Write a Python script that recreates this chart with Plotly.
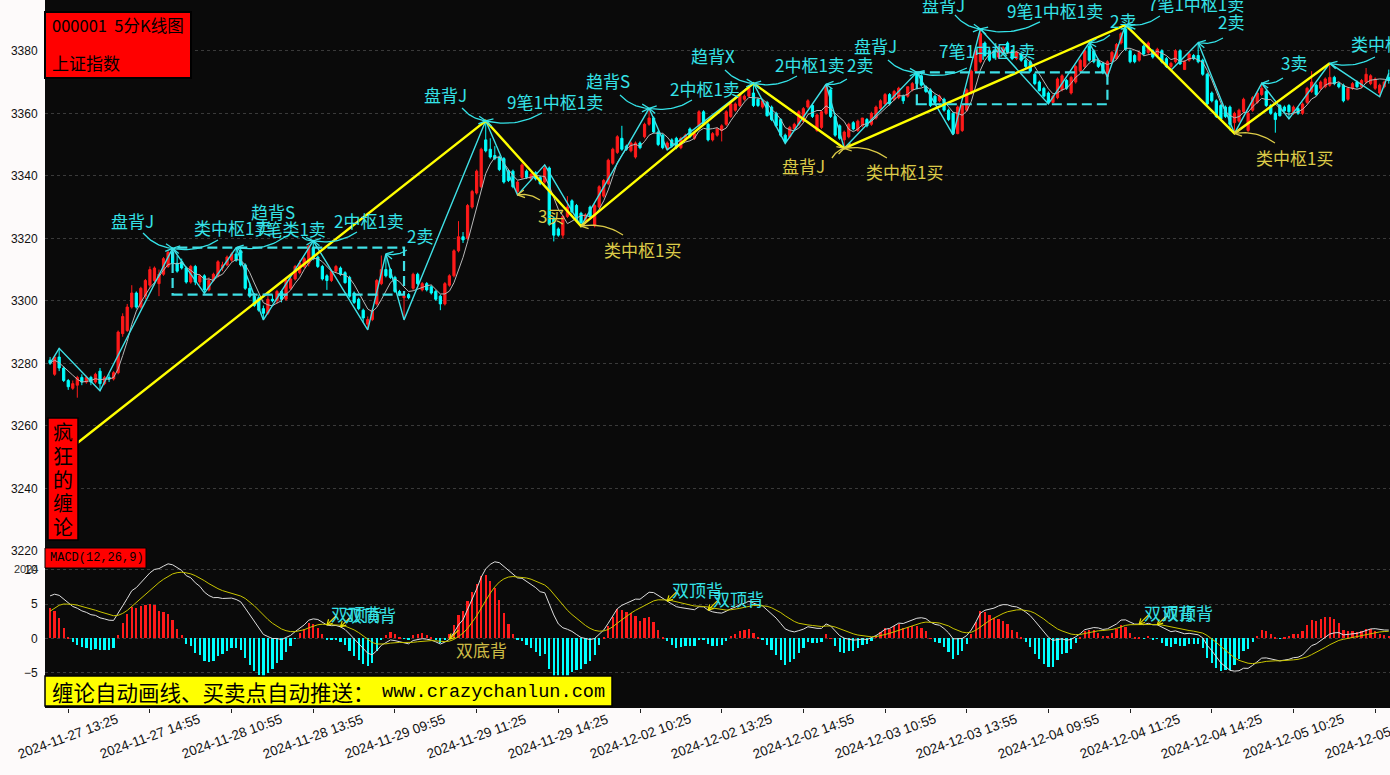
import math
import pandas as pd
import plotly.graph_objects as go

# ------------------------------------------------------------------ data
opens = [
 3281.0, 3276.5, 3282.0, 3278.5, 3274.5, 3272.0, 3273.0, 3275.5, 3274.0, 3275.5,
 3274.0, 3277.5, 3273.5, 3275.5, 3275.0, 3277.0, 3289.5, 3290.5, 3298.0, 3302.5,
 3298.0, 3301.5, 3305.0, 3306.5, 3305.5, 3308.5, 3311.0, 3315.5, 3312.0, 3312.5,
 3310.5, 3306.0, 3311.0, 3306.0, 3308.0, 3303.5, 3306.5, 3308.0, 3310.5, 3311.5,
 3313.0, 3315.0, 3316.0, 3311.5, 3304.0, 3301.5, 3301.0, 3297.5, 3296.0, 3300.5,
 3300.0, 3303.0, 3300.5, 3304.0, 3307.0, 3309.0, 3311.0, 3312.0, 3317.0, 3314.0,
 3311.0, 3308.0, 3306.5, 3309.5, 3310.5, 3309.0, 3307.5, 3302.5, 3300.5, 3297.0,
 3292.5, 3294.0, 3299.0, 3305.5, 3310.0, 3310.0, 3307.5, 3303.0, 3301.0, 3302.0,
 3304.0, 3308.5, 3303.5, 3305.5, 3304.5, 3303.0, 3301.5, 3299.0, 3305.0, 3308.0,
 3316.0, 3320.5, 3320.0, 3330.0, 3334.5, 3336.5, 3351.5, 3348.5, 3346.5, 3346.0,
 3345.5, 3341.5, 3341.5, 3335.0, 3339.5, 3341.5, 3339.0, 3341.0, 3339.5, 3338.0,
 3342.5, 3326.5, 3323.0, 3321.0, 3327.0, 3332.0, 3330.5, 3328.0, 3325.5, 3330.0,
 3324.0, 3330.0, 3333.5, 3337.5, 3344.0, 3347.5, 3352.0, 3349.5, 3348.0, 3346.0,
 3350.5, 3352.5, 3356.5, 3358.5, 3354.0, 3353.0, 3348.5, 3351.5, 3352.0, 3349.0,
 3351.5, 3355.0, 3352.0, 3356.0, 3360.5, 3356.5, 3351.5, 3353.0, 3354.5, 3356.5,
 3359.0, 3361.0, 3362.5, 3364.5, 3365.5, 3366.5, 3364.5, 3362.0, 3363.5, 3362.0,
 3360.0, 3358.0, 3353.0, 3352.5, 3355.0, 3356.5, 3357.5, 3362.0, 3362.5, 3354.5,
 3355.5, 3360.0, 3367.5, 3359.0, 3356.0, 3351.5, 3352.5, 3357.0, 3354.5, 3356.0,
 3358.0, 3356.5, 3358.5, 3361.5, 3363.0, 3366.0, 3364.5, 3365.0, 3365.5, 3365.5,
 3367.5, 3373.0, 3372.0, 3368.5, 3367.5, 3365.5, 3364.0, 3364.5, 3361.0, 3360.0,
 3353.5, 3354.5, 3361.0, 3366.5, 3373.5, 3376.5, 3382.5, 3380.0, 3380.0, 3378.0,
 3379.5, 3382.5, 3380.0, 3377.5, 3379.0, 3377.0, 3376.5, 3372.5, 3370.0, 3368.0,
 3366.5, 3363.5, 3365.0, 3367.5, 3370.5, 3366.5, 3370.0, 3373.5, 3375.0, 3381.5,
 3380.0, 3377.0, 3376.0, 3371.8, 3376.5, 3377.5, 3382.5, 3387.0, 3380.0, 3378.5,
 3377.0, 3381.5, 3379.5, 3380.0, 3378.5, 3380.0, 3377.5, 3375.0, 3376.5, 3380.0,
 3374.0, 3377.0, 3378.5, 3378.5, 3377.0, 3372.5, 3366.5, 3364.0, 3362.5, 3362.0,
 3362.0, 3357.0, 3357.5, 3360.5, 3354.5, 3361.0, 3363.5, 3366.0, 3367.0, 3362.5,
 3360.0, 3362.5, 3362.0, 3362.5, 3360.0, 3361.5, 3360.0, 3363.5, 3367.0, 3369.0,
 3368.0, 3368.5, 3369.0, 3371.5, 3369.5, 3369.0, 3364.5, 3368.0, 3370.0, 3368.5,
 3370.0, 3369.5, 3368.0, 3366.5, 3368.5, 3371.5]
highs = [
 3282.0, 3282.5, 3284.8, 3279.0, 3275.0, 3274.5, 3276.0, 3276.5, 3276.0, 3276.0,
 3277.0, 3278.5, 3276.0, 3276.5, 3277.5, 3290.5, 3296.0, 3299.0, 3305.0, 3303.0,
 3304.5, 3307.0, 3311.0, 3311.0, 3310.0, 3314.0, 3316.0, 3316.8, 3314.5, 3313.5,
 3311.0, 3311.5, 3311.5, 3308.5, 3308.5, 3307.5, 3309.0, 3313.0, 3312.5, 3314.5,
 3315.5, 3317.0, 3317.0, 3312.0, 3305.5, 3302.5, 3302.0, 3298.5, 3301.5, 3302.0,
 3303.5, 3303.5, 3307.0, 3307.5, 3311.5, 3313.0, 3314.0, 3318.0, 3319.2, 3314.5,
 3311.5, 3308.5, 3310.0, 3311.5, 3311.0, 3309.5, 3308.0, 3303.0, 3301.0, 3297.5,
 3295.0, 3297.5, 3307.0, 3314.5, 3315.0, 3310.5, 3308.0, 3303.5, 3302.5, 3302.5,
 3309.0, 3309.0, 3306.0, 3306.0, 3305.0, 3303.5, 3302.0, 3306.0, 3308.5, 3316.5,
 3325.5, 3322.0, 3331.0, 3335.5, 3342.0, 3349.0, 3357.6, 3352.0, 3349.5, 3346.5,
 3346.0, 3342.0, 3342.0, 3338.5, 3344.0, 3342.0, 3341.0, 3341.5, 3340.0, 3343.5,
 3343.0, 3327.0, 3323.5, 3327.5, 3333.5, 3332.5, 3331.0, 3328.5, 3328.0, 3330.5,
 3331.0, 3337.0, 3339.0, 3345.5, 3349.0, 3353.0, 3356.0, 3350.0, 3351.0, 3351.0,
 3351.0, 3357.0, 3361.6, 3359.0, 3354.5, 3353.5, 3351.0, 3352.0, 3352.5, 3352.5,
 3353.5, 3355.5, 3354.0, 3361.0, 3361.0, 3357.0, 3354.0, 3355.5, 3356.5, 3361.0,
 3363.5, 3363.5, 3366.5, 3366.0, 3368.5, 3369.6, 3365.0, 3364.5, 3364.0, 3362.5,
 3360.5, 3358.5, 3353.5, 3356.0, 3357.0, 3361.0, 3362.0, 3364.5, 3363.0, 3360.0,
 3361.0, 3369.3, 3368.0, 3359.5, 3356.5, 3354.5, 3357.0, 3357.5, 3358.0, 3358.5,
 3358.5, 3360.5, 3362.5, 3364.5, 3366.5, 3366.5, 3367.5, 3368.5, 3366.0, 3368.5,
 3370.0, 3373.1, 3372.5, 3369.0, 3368.0, 3366.0, 3366.0, 3365.0, 3361.5, 3360.5,
 3362.5, 3363.0, 3368.0, 3374.0, 3380.5, 3387.0, 3383.0, 3380.5, 3380.5, 3381.5,
 3381.5, 3383.0, 3380.5, 3380.0, 3379.5, 3377.5, 3377.0, 3373.0, 3370.5, 3368.5,
 3367.0, 3366.0, 3371.5, 3372.5, 3371.0, 3372.0, 3375.5, 3377.5, 3380.5, 3382.6,
 3380.5, 3377.5, 3376.5, 3377.0, 3380.0, 3382.5, 3386.0, 3388.3, 3380.5, 3379.0,
 3380.0, 3382.0, 3383.0, 3380.5, 3381.0, 3380.5, 3378.0, 3376.5, 3380.5, 3380.5,
 3377.0, 3379.5, 3379.0, 3382.6, 3377.5, 3373.0, 3367.0, 3364.5, 3363.0, 3362.5,
 3362.5, 3360.5, 3361.5, 3365.0, 3360.5, 3365.5, 3367.0, 3369.6, 3367.5, 3363.0,
 3360.5, 3363.0, 3362.5, 3363.0, 3362.5, 3362.0, 3363.5, 3368.5, 3373.5, 3369.5,
 3370.5, 3371.5, 3376.0, 3372.0, 3370.0, 3369.5, 3368.5, 3370.0, 3370.5, 3371.0,
 3374.5, 3372.5, 3371.5, 3369.5, 3370.5, 3374.0]
lows = [
 3279.5, 3276.0, 3277.5, 3274.0, 3271.5, 3271.5, 3269.0, 3273.0, 3273.5, 3273.0,
 3273.5, 3271.2, 3273.0, 3274.0, 3274.5, 3276.5, 3288.5, 3290.0, 3297.5, 3297.5,
 3297.5, 3300.5, 3304.0, 3305.0, 3301.5, 3308.0, 3310.5, 3311.5, 3309.0, 3310.0,
 3305.5, 3305.5, 3305.0, 3305.0, 3302.4, 3303.0, 3306.0, 3307.5, 3309.5, 3311.0,
 3312.5, 3312.5, 3311.0, 3303.5, 3301.0, 3298.0, 3296.5, 3293.9, 3295.5, 3299.5,
 3299.0, 3299.5, 3300.0, 3303.5, 3306.5, 3308.5, 3310.5, 3311.0, 3313.0, 3310.5,
 3306.5, 3303.5, 3306.0, 3309.0, 3308.0, 3305.5, 3301.0, 3299.0, 3297.0, 3293.0,
 3290.7, 3293.5, 3298.5, 3305.0, 3307.5, 3307.0, 3302.5, 3301.5, 3293.9, 3300.5,
 3303.5, 3305.0, 3303.0, 3303.0, 3302.0, 3300.0, 3297.0, 3298.5, 3304.5, 3307.5,
 3315.5, 3318.5, 3319.5, 3329.5, 3334.0, 3336.0, 3347.5, 3345.5, 3345.0, 3341.5,
 3337.5, 3338.0, 3336.0, 3333.9, 3339.0, 3339.0, 3338.5, 3338.5, 3337.0, 3337.5,
 3324.0, 3319.0, 3320.5, 3320.0, 3326.5, 3328.0, 3325.5, 3323.9, 3325.0, 3326.5,
 3323.5, 3329.5, 3333.0, 3337.0, 3343.5, 3347.0, 3348.0, 3348.0, 3347.5, 3345.5,
 3348.5, 3352.0, 3356.0, 3353.5, 3349.5, 3348.5, 3348.3, 3349.0, 3348.5, 3348.5,
 3351.0, 3352.0, 3351.5, 3355.5, 3356.0, 3351.0, 3351.0, 3352.5, 3351.0, 3356.0,
 3358.5, 3360.5, 3362.0, 3364.0, 3365.0, 3362.0, 3362.0, 3361.5, 3359.0, 3357.5,
 3355.5, 3352.5, 3350.4, 3352.0, 3354.5, 3356.0, 3357.0, 3361.5, 3358.5, 3354.0,
 3355.0, 3359.5, 3358.5, 3352.5, 3351.5, 3348.8, 3352.0, 3354.5, 3354.0, 3355.5,
 3355.5, 3356.0, 3358.0, 3361.0, 3362.5, 3362.5, 3364.0, 3364.5, 3363.0, 3365.0,
 3367.0, 3369.0, 3368.5, 3366.5, 3362.0, 3363.0, 3363.5, 3360.5, 3357.5, 3353.1,
 3353.3, 3354.0, 3360.5, 3366.0, 3373.0, 3376.0, 3378.0, 3376.5, 3377.5, 3377.5,
 3379.0, 3379.0, 3377.0, 3377.0, 3376.5, 3374.5, 3373.0, 3369.0, 3367.0, 3365.0,
 3363.0, 3363.2, 3364.5, 3367.0, 3367.5, 3366.0, 3369.5, 3373.0, 3374.5, 3376.5,
 3376.0, 3374.5, 3372.5, 3371.7, 3376.0, 3377.0, 3382.0, 3380.0, 3376.0, 3376.0,
 3376.5, 3378.5, 3379.0, 3377.5, 3378.0, 3376.0, 3374.5, 3373.8, 3376.0, 3375.5,
 3374.0, 3376.5, 3377.0, 3376.0, 3372.0, 3362.5, 3363.5, 3358.5, 3358.0, 3358.5,
 3354.5, 3353.6, 3357.0, 3360.0, 3354.0, 3360.5, 3363.0, 3365.5, 3362.0, 3359.5,
 3353.8, 3359.0, 3360.5, 3358.2, 3359.5, 3359.5, 3359.5, 3363.0, 3366.5, 3365.5,
 3367.5, 3368.0, 3368.5, 3369.0, 3368.0, 3363.5, 3364.0, 3367.5, 3368.0, 3368.0,
 3369.5, 3369.0, 3367.5, 3365.3, 3368.0, 3369.5]
closes = [
 3280.0, 3282.0, 3278.5, 3274.5, 3272.5, 3273.5, 3275.5, 3274.0, 3275.5, 3274.0,
 3276.5, 3273.5, 3275.5, 3275.0, 3277.0, 3290.0, 3295.0, 3298.0, 3302.5, 3298.0,
 3304.0, 3306.5, 3310.0, 3310.5, 3308.5, 3313.5, 3315.5, 3312.0, 3309.5, 3310.5,
 3306.0, 3311.0, 3306.0, 3308.0, 3303.5, 3306.5, 3308.5, 3312.5, 3311.5, 3314.0,
 3315.0, 3313.0, 3311.5, 3304.0, 3301.5, 3298.5, 3297.0, 3296.0, 3300.5, 3300.0,
 3303.0, 3300.5, 3306.5, 3307.0, 3311.0, 3312.0, 3313.5, 3317.5, 3313.5, 3311.0,
 3307.0, 3306.5, 3309.5, 3311.0, 3308.5, 3305.8, 3301.5, 3299.5, 3297.5, 3294.5,
 3294.0, 3297.0, 3306.5, 3310.0, 3308.0, 3307.5, 3303.0, 3302.0, 3301.5, 3301.0,
 3308.5, 3305.5, 3305.5, 3303.5, 3302.5, 3300.5, 3299.0, 3305.5, 3308.0, 3316.0,
 3320.5, 3319.5, 3330.5, 3335.0, 3341.5, 3348.5, 3348.0, 3346.0, 3345.5, 3342.0,
 3338.0, 3338.5, 3336.5, 3338.0, 3343.5, 3339.5, 3340.5, 3339.0, 3337.5, 3342.5,
 3324.5, 3321.0, 3321.0, 3327.0, 3330.0, 3328.5, 3326.0, 3325.0, 3327.5, 3327.0,
 3330.5, 3336.5, 3338.5, 3345.0, 3348.5, 3352.5, 3348.5, 3348.5, 3350.5, 3350.5,
 3349.0, 3356.5, 3358.5, 3354.0, 3350.0, 3349.0, 3350.5, 3349.5, 3349.0, 3352.0,
 3353.0, 3352.5, 3353.5, 3360.5, 3356.5, 3351.5, 3353.5, 3355.0, 3356.0, 3360.5,
 3363.0, 3363.0, 3366.0, 3365.5, 3368.0, 3362.5, 3362.5, 3364.0, 3359.2, 3358.0,
 3356.0, 3353.0, 3351.0, 3355.5, 3356.5, 3360.5, 3361.5, 3364.0, 3359.0, 3359.5,
 3360.5, 3369.0, 3359.0, 3353.0, 3352.0, 3354.0, 3356.5, 3355.0, 3357.5, 3358.5,
 3356.0, 3360.0, 3362.0, 3364.0, 3366.0, 3363.0, 3367.0, 3368.0, 3364.0, 3368.5,
 3369.5, 3369.5, 3369.0, 3367.0, 3362.5, 3363.5, 3365.5, 3361.0, 3358.0, 3353.5,
 3362.0, 3362.5, 3367.5, 3373.5, 3380.0, 3385.5, 3378.5, 3377.0, 3377.8, 3381.0,
 3381.0, 3379.5, 3377.5, 3379.5, 3377.0, 3375.0, 3373.5, 3369.5, 3367.2, 3365.5,
 3363.5, 3365.5, 3371.0, 3372.0, 3368.0, 3371.5, 3375.0, 3377.0, 3380.0, 3377.0,
 3376.5, 3375.0, 3373.0, 3376.5, 3379.5, 3382.0, 3385.5, 3380.5, 3376.5, 3376.5,
 3379.5, 3379.0, 3382.5, 3378.0, 3380.5, 3376.5, 3375.0, 3376.0, 3380.0, 3375.8,
 3376.5, 3379.0, 3377.5, 3376.5, 3372.5, 3363.0, 3364.0, 3359.0, 3358.2, 3359.0,
 3356.5, 3360.0, 3361.0, 3364.5, 3360.0, 3365.0, 3366.5, 3368.0, 3362.5, 3360.0,
 3358.0, 3359.2, 3360.8, 3360.5, 3362.0, 3360.0, 3363.0, 3368.0, 3370.0, 3366.0,
 3370.0, 3371.0, 3371.5, 3369.5, 3368.5, 3364.0, 3368.0, 3369.5, 3368.5, 3370.5,
 3372.5, 3372.0, 3371.0, 3369.0, 3370.0, 3370.5]

trade_days = ["2024-11-27", "2024-11-28", "2024-11-29", "2024-12-02",
              "2024-12-03", "2024-12-04", "2024-12-05"]
first_bar = "2024-11-27 13:05"
last_bar = "2024-12-05 13:40"
tick_every = 18
tick_first = 4

# chan "bi" strokes (bar index, price)
bi_idx = [0, 2, 11, 27, 34, 41, 47, 58, 70, 74, 78, 96, 103, 109, 117, 132, 136,
          155, 162, 171, 175, 191, 199, 205, 220, 229, 233, 237, 247, 253, 261,
          267, 273, 282, 293, 295]
bi_price = [3280.0, 3284.8, 3271.2, 3316.8, 3302.4, 3317.0, 3293.9, 3319.2, 3290.7,
            3315.0, 3293.9, 3357.6, 3333.9, 3343.5, 3323.9, 3361.6, 3348.3, 3369.6,
            3350.4, 3369.3, 3348.8, 3373.1, 3353.1, 3387.0, 3363.0, 3382.6, 3371.7,
            3388.3, 3373.8, 3382.6, 3353.6, 3369.6, 3358.2, 3376.0, 3365.3, 3372.8]
# segments
seg_idx = [6, 96, 117, 155, 175, 237, 261, 282]
seg_price = [3254.5, 3357.6, 3323.9, 3369.6, 3348.8, 3388.3, 3353.6, 3376.0]
# pivots (zhongshu)
zs_start = [27, 191]
zs_end = [78, 233]
zs_low = [3302.0, 3362.9]
zs_high = [3317.0, 3373.1]

# signals: text, kind, bi vertex number
sig_text = ["盘背J", "类中枢1卖", "趋背S", "7笔类1卖", "2中枢1卖", "2卖", "盘背J",
            "9笔1中枢1卖", "趋背S", "2中枢1卖", "趋背X", "2中枢1卖", "2卖", "盘背J",
            "7笔1中枢1卖", "盘背J", "9笔1中枢1卖", "2卖", "7笔1中枢1卖", "2卖", "3卖",
            "类中枢1卖", "3买", "类中枢1买", "盘背J", "类中枢1买", "类中枢1买"]
sig_kind = ["sell"] * 22 + ["buy"] * 5
sig_vertex = [3, 3, 5, 7, 7, 9, 11, 11, 15, 15, 17, 17, 19, 21, 21, 23, 23, 25, 27,
              29, 31, 33, 12, 14, 20, 20, 30]

macd_sig_text = ["双顶背", "双顶背", "双底背", "双顶背", "双顶背", "双顶背", "双顶背"]
macd_sig_bar = [61, 64, 88, 136, 145, 240, 244]
macd_sig_kind = ["top", "top", "bottom", "top", "top", "top", "top"]

ma_period = 5
ema12_init, ema26_init, dea_init = 3272.0, 3266.0, 3.4

# ------------------------------------------------------------------ style / layout
# label offsets (pixels): text centre (dx, dy), arrow start (sx, sy) relative to vertex
sig_offsets = [(-40.6, -28.3, -29.6, -15.3), (59.4, -21.3, 45.4, -8.3),
               (36.8, -35.7, 48.8, -10.7), (-22.3, -12.8, -11.3, -3.8),
               (55.7, -20.8, 43.7, -8.8), (34.1, -18.9, 21.1, -3.9),
               (-40.7, -26.8, -23.7, -12.8), (69.3, -19.8, 56.3, -7.8),
               (-41.1, -28.3, -29.1, -13.3), (55.9, -20.3, 42.9, -8.3),
               (-40.5, -28.3, -28.5, -13.3), (56.5, -19.3, 43.5, -7.3),
               (33.9, -20.2, 20.9, -5.2), (-40.9, -26.4, -28.9, -12.4),
               (70.1, -21.4, 50.1, -4.4), (-36.4, -24.0, -25.4, -14.0),
               (74.6, -18.0, 59.6, -7.0), (33.7, -21.7, 20.7, -7.7),
               (70.4, -20.9, 34.4, -8.9), (32.8, -20.7, 24.8, -4.7),
               (32.3, -21.3, 21.3, -5.3), (60.2, -20.3, 45.2, -6.3),
               (33.5, 21.1, 22.5, 5.1), (61.0, 22.9, 42.0, 8.9),
               (-40.3, 16.7, -12.3, 9.7), (60.7, 22.7, 42.7, 9.7),
               (60.5, 23.7, 40.5, 9.7)]
macd_offsets = {"top": (30, -12), "bottom": (32, 10)}

W, H = 1390, 775
ML, MB = 45, 67
PW, PH = W - ML, H - MB
MAIN_H = 551
XR = (-1.12, 295.27)
YR = (3219.94, 3396.26)
Y2R = (-10.17, 12.74)

C_UP = "#ff1a1a"
C_DN = "#00ffff"
C_BI = "#3fe0e6"
C_SELL = "#35e3e8"
C_BUY = "#dccb48"
C_SEG = "#ffff00"
CJK = "Noto Sans CJK SC"

# ------------------------------------------------------------------ derived
n = len(closes)
idx = list(range(n))


def session_slots():
    out = []
    for start, end in ((9 * 60 + 35, 11 * 60 + 30), (13 * 60 + 5, 15 * 60)):
        m = start
        while m <= end:
            out.append(f"{m // 60:02d}:{m % 60:02d}")
            m += 5
    return out


all_times = [f"{d} {t}" for d in trade_days for t in session_slots()]
times = all_times[all_times.index(first_bar): all_times.index(last_bar) + 1]

ma = pd.Series(closes).rolling(ma_period, min_periods=1).mean()

e12, e26, dv = ema12_init, ema26_init, dea_init
dif, dea, hist = [], [], []
for c in closes:
    e12 += 2 / 13 * (c - e12)
    e26 += 2 / 27 * (c - e26)
    d = e12 - e26
    dv += 2 / 10 * (d - dv)
    dif.append(d)
    dea.append(dv)
    hist.append(2 * (d - dv))


# pixel helpers
def fx(i):
    return ML + (i - XR[0]) / (XR[1] - XR[0]) * PW


def fy(p):
    return (YR[1] - p) / (YR[1] - YR[0]) * MAIN_H


def fy2(v):
    return MAIN_H + (Y2R[1] - v) / (Y2R[1] - Y2R[0]) * (PH - MAIN_H)


def ix(px):
    return XR[0] + (px - ML) / PW * (XR[1] - XR[0])


def iy(py):
    return YR[1] - py / MAIN_H * (YR[1] - YR[0])


def iy2(py):
    return Y2R[1] - (py - MAIN_H) / (PH - MAIN_H) * (Y2R[1] - Y2R[0])


def pxp(x):
    return (x - ML) / PW


def pyp(y):
    return (PH - y) / PH


def arrow_pts(sx, sy, tx, ty, bend, head=8, spread=0.5):
    mx, my = (sx + tx) / 2, (sy + ty) / 2
    dx, dy = tx - sx, ty - sy
    L = math.hypot(dx, dy) or 1
    nx, ny = -dy / L, dx / L
    if ny < 0:
        nx, ny = -nx, -ny
    cx, cy = mx + bend * L * nx, my + bend * L * ny
    pts = []
    for k in range(21):
        t = k / 20
        pts.append(((1 - t) ** 2 * sx + 2 * (1 - t) * t * cx + t * t * tx,
                    (1 - t) ** 2 * sy + 2 * (1 - t) * t * cy + t * t * ty))
    ang = math.atan2(ty - cy, tx - cx)
    h = [(tx - head * math.cos(ang - spread), ty - head * math.sin(ang - spread)),
         (tx, ty),
         (tx - head * math.cos(ang + spread), ty - head * math.sin(ang + spread))]
    return pts, h


fig = go.Figure()

# ---------------- main panel
fig.add_trace(go.Candlestick(
    x=idx, open=opens, high=highs, low=lows, close=closes,
    increasing=dict(line=dict(color=C_UP, width=1), fillcolor=C_UP),
    decreasing=dict(line=dict(color=C_DN, width=1), fillcolor=C_DN),
    whiskerwidth=0, showlegend=False, hoverinfo="skip", xaxis="x", yaxis="y"))
fig.add_trace(go.Scatter(x=idx, y=ma, mode="lines", line=dict(color="#b8b8b8", width=1),
                         hoverinfo="skip", showlegend=False, xaxis="x", yaxis="y"))
fig.add_trace(go.Scatter(x=bi_idx, y=bi_price, mode="lines", line=dict(color=C_BI, width=1.4),
                         hoverinfo="skip", showlegend=False, xaxis="x", yaxis="y"))
fig.add_trace(go.Scatter(x=seg_idx, y=seg_price, mode="lines", line=dict(color=C_SEG, width=2.4),
                         hoverinfo="skip", showlegend=False, xaxis="x", yaxis="y"))

shapes = []
for a, b, lo, hi in zip(zs_start, zs_end, zs_low, zs_high):
    shapes.append(dict(type="rect", xref="x", yref="y", x0=a, x1=b, y0=lo, y1=hi,
                       line=dict(color=C_BI, width=2.2, dash="10px,5px"), layer="above"))

annotations = []
arrow_xy = {"sell": ([], []), "buy": ([], [])}
for text, kind, k, (dx, dy, sx, sy) in zip(sig_text, sig_kind, sig_vertex, sig_offsets):
    vi, vp = bi_idx[k], bi_price[k]
    tx, ty = fx(vi), fy(vp)
    col = C_SELL if kind == "sell" else C_BUY
    annotations.append(dict(x=vi, y=vp, xref="x", yref="y", text=text, showarrow=False,
                            xshift=dx, yshift=-dy, xanchor="center", yanchor="middle",
                            font=dict(family=CJK, size=17, color=col)))
    bend = 0.2 if kind == "sell" else -0.2
    pts, head = arrow_pts(tx + sx, ty + sy, tx, ty, bend)
    xs, ys = arrow_xy[kind]
    for seq in (pts, head):
        xs += [ix(p[0]) for p in seq] + [None]
        ys += [iy(p[1]) for p in seq] + [None]
for kind, col in (("sell", C_SELL), ("buy", C_BUY)):
    fig.add_trace(go.Scatter(x=arrow_xy[kind][0], y=arrow_xy[kind][1], mode="lines",
                             line=dict(color=col, width=1.3), hoverinfo="skip",
                             showlegend=False, xaxis="x", yaxis="y"))

# ---------------- MACD panel
fig.add_trace(go.Bar(x=idx, y=hist, width=0.5,
                     marker=dict(color=[C_UP if h >= 0 else C_DN for h in hist], line=dict(width=0)),
                     hoverinfo="skip", showlegend=False, xaxis="x", yaxis="y2"))
fig.add_trace(go.Scatter(x=idx, y=dif, mode="lines", line=dict(color="#dedede", width=1),
                         hoverinfo="skip", showlegend=False, xaxis="x", yaxis="y2"))
fig.add_trace(go.Scatter(x=idx, y=dea, mode="lines", line=dict(color="#c8c400", width=1),
                         hoverinfo="skip", showlegend=False, xaxis="x", yaxis="y2"))

mx_, my_ = [], []
for text, bar, kind in zip(macd_sig_text, macd_sig_bar, macd_sig_kind):
    tx, ty = fx(bar), fy2(dif[bar])
    dx, dy = macd_offsets[kind]
    col = C_SELL if kind == "top" else "#cdbb45"
    annotations.append(dict(x=bar, y=dif[bar], xref="x", yref="y2", text=text, showarrow=False,
                            xshift=dx, yshift=-dy, xanchor="center", yanchor="middle",
                            font=dict(family=CJK, size=17, color=col)))
    pts, head = arrow_pts(tx + 9, ty - 9, tx, ty, 0.0, head=6)
    for seq in (pts, head):
        mx_ += [ix(p[0]) for p in seq] + [None]
        my_ += [iy2(p[1]) for p in seq] + [None]
fig.add_trace(go.Scatter(x=mx_, y=my_, mode="lines", line=dict(color="#e8e000", width=1.2),
                         hoverinfo="skip", showlegend=False, xaxis="x", yaxis="y2"))

# ---------------- x tick labels (centred, slanted)
tick_vals = list(range(tick_first, n, tick_every))
for k in tick_vals:
    annotations.append(dict(x=k, y=pyp(736), xref="x", yref="paper", text=times[k],
                            showarrow=False, textangle=-20, xanchor="center", yanchor="middle",
                            font=dict(family="Liberation Sans", size=13.5, color="#111111")))


# ---------------- boxes
def box(x0, y0, x1, y1, fill, lw=1.5):
    shapes.append(dict(type="rect", xref="paper", yref="paper", x0=pxp(x0), x1=pxp(x1),
                       y0=pyp(y1), y1=pyp(y0), fillcolor=fill,
                       line=dict(color="black", width=lw), layer="above"))


def label(x, y, text, size, family=CJK, anchor="left", color="black"):
    annotations.append(dict(x=pxp(x), y=pyp(y), xref="paper", yref="paper", text=text,
                            showarrow=False, xanchor=anchor, yanchor="middle",
                            font=dict(family=family, size=size, color=color)))


box(45, 12, 191, 78, "#ff0000", 2)
label(50, 25, "000001&nbsp;&nbsp;5分K线图", 16.5)
label(50, 63, "上证指数", 17)

box(48, 418, 78, 540, "#ff0000", 1.5)
for j, ch in enumerate("疯狂的缠论"):
    label(63, 432 + j * 23.5, ch, 20, anchor="center")

box(45, 548, 146, 568, "#ff0000", 1)
label(48, 558, "MACD(12,26,9)", 12, family="Liberation Mono")
label(26, 569, "2024", 11, family="Liberation Sans", anchor="center", color="#333")

box(45, 676, 612, 706, "#ffff00", 1.5)
label(50, 691, "缠论自动画线、买卖点自动推送：", 21.5)
label(380, 692, "www.crazychanlun.com", 18.6, family="Liberation Mono")

# ---------------- layout
split = (PH - MAIN_H) / PH
grid = dict(gridcolor="#3a3a3a", griddash="dot", gridwidth=1, zeroline=False, showline=False)
fig.update_layout(
    width=W, height=H, margin=dict(l=ML, r=0, t=0, b=MB, pad=0),
    paper_bgcolor="#fdfafa", plot_bgcolor="#0a0a0a",
    showlegend=False, shapes=shapes, annotations=annotations,
    xaxis=dict(range=list(XR), anchor="y2", showgrid=False, zeroline=False,
               tickvals=tick_vals, showticklabels=False, ticks="outside", ticklen=4,
               tickcolor="#222", rangeslider=dict(visible=False), fixedrange=True),
    yaxis=dict(domain=[split, 1], range=list(YR), tickvals=list(range(3220, 3400, 20)),
               ticks="outside", ticklen=4, tickcolor="#fdfafa",
               tickfont=dict(family="Liberation Sans", size=12, color="#111"), **grid),
    yaxis2=dict(domain=[0, split], range=list(Y2R), tickvals=[-5, 0, 5, 10],
                ticks="outside", ticklen=4, tickcolor="#fdfafa",
                tickfont=dict(family="Liberation Sans", size=12, color="#111"), **grid),
    bargap=0,
)

fig.write_html("out.html", config={"displayModeBar": False},
               post_script="document.body.style.margin='0px';document.body.style.overflow='hidden';")
